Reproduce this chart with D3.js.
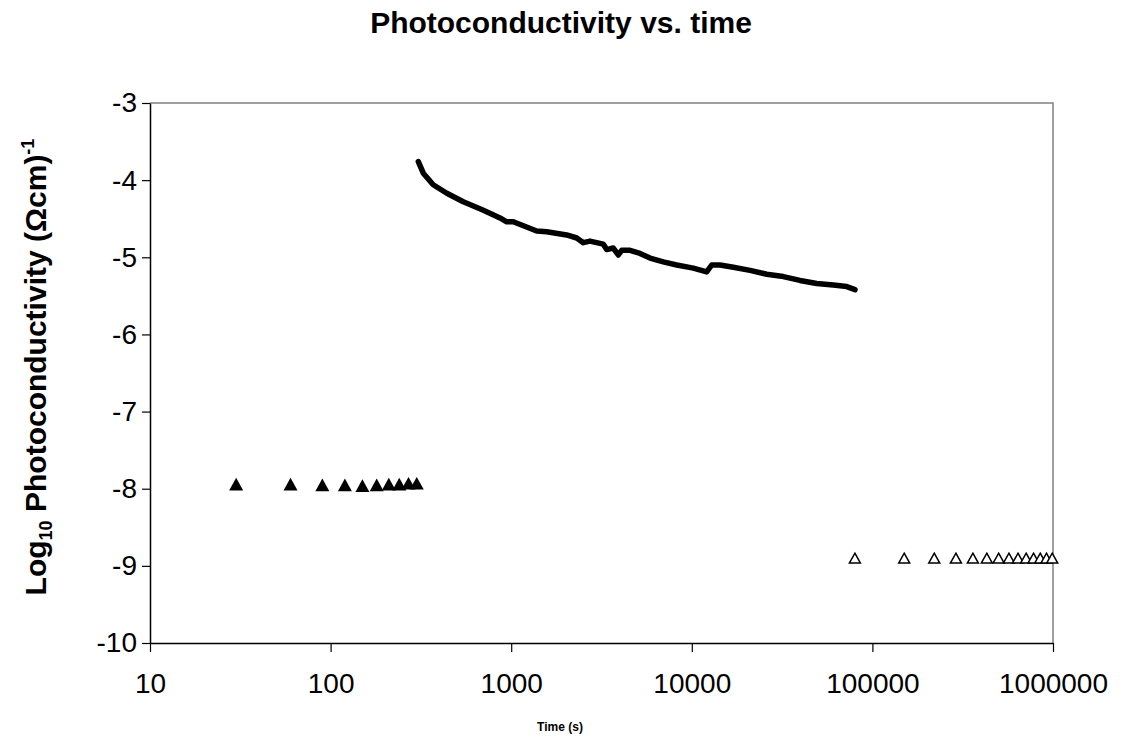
<!DOCTYPE html>
<html>
<head>
<meta charset="utf-8">
<script src="https://cdn.jsdelivr.net/npm/d3@7"></script>
<style>
  body { margin: 0; background: #fff; }
  text { font-family: "Liberation Sans", Arial, sans-serif; fill: #000; }
</style>
</head>
<body>
<div id="chart"></div>
<script>
var width = 1125;
var height = 738;
var margin = {top: 103, right: 72, bottom: 95, left: 150};

// decay curve (time in s, log10 photoconductivity)
var decayTime = [306, 326, 370, 440, 543, 701, 867, 944, 1027, 1384, 1573, 2029, 2306, 2507, 2731,
	3236, 3380, 3676, 3917, 4091, 4548, 5167, 5869, 6954, 8248, 10193, 12090, 12890, 14330,
	16980, 21010, 25980, 32110, 39720, 49150, 60740, 72060, 80100];
var decayValue = [-3.76, -3.91, -4.06, -4.17, -4.28, -4.39, -4.49, -4.54, -4.54, -4.66, -4.67, -4.71, -4.75, -4.81, -4.79,
	-4.83, -4.90, -4.88, -4.97, -4.91, -4.91, -4.95, -5.01, -5.06, -5.10, -5.14, -5.19, -5.10, -5.10,
	-5.13, -5.17, -5.22, -5.25, -5.30, -5.34, -5.36, -5.38, -5.42];

// dark conductivity before illumination (filled triangles)
var darkTime = [30, 60, 90, 120, 150, 180, 210, 240, 270, 300];
var darkValue = [-7.94, -7.94, -7.95, -7.95, -7.96, -7.95, -7.94, -7.94, -7.93, -7.93];

// later dark readings (open triangles)
var lateTime = [80000, 150000, 220000, 290000, 360000, 430000, 500000, 570000, 640000, 710000, 780000, 850000, 920000, 990000];
var lateValue = [-8.90, -8.90, -8.90, -8.90, -8.90, -8.90, -8.90, -8.90, -8.90, -8.90, -8.90, -8.90, -8.90, -8.90];

var xTicks = [10, 100, 1000, 10000, 100000, 1000000];
var yTicks = [-3, -4, -5, -6, -7, -8, -9, -10];

var svg = d3.select("#chart")
	.append("svg")
	.attr("width", width)
	.attr("height", height);

var x = d3.scaleLog()
	.domain([10, 1000000])
	.range([margin.left, width - margin.right]);

var y = d3.scaleLinear()
	.domain([-10, -3])
	.range([height - margin.bottom, margin.top]);

// frame: grey top and right
svg.append("path")
	.attr("d", "M" + x(10) + "," + y(-3) + "H" + x(1000000) + "V" + y(-10))
	.attr("fill", "none")
	.attr("stroke", "#808080")
	.attr("stroke-width", 1.5);

// x axis
var xAxis = svg.append("g")
	.attr("transform", "translate(0," + y(-10) + ")")
	.call(d3.axisBottom(x).tickValues(xTicks).tickFormat(d3.format("d")).tickSizeOuter(0).tickSizeInner(9).tickPadding(16));
xAxis.select(".domain").attr("stroke", "#000").attr("stroke-width", 1.5);
xAxis.selectAll(".tick line").attr("stroke", "#000").attr("stroke-width", 1.2);
xAxis.selectAll(".tick text")
	.attr("font-size", "28px")
	.attr("font-family", "'Liberation Sans', Arial, sans-serif")
	.attr("dy", "0.9em");

// y axis
var yAxis = svg.append("g")
	.attr("transform", "translate(" + x(10) + ",0)")
	.call(d3.axisLeft(y).tickValues(yTicks).tickFormat(d3.format("d")).tickSizeOuter(0).tickSizeInner(8).tickPadding(5));
yAxis.select(".domain").attr("stroke", "#000").attr("stroke-width", 1.5);
yAxis.selectAll(".tick line").attr("stroke", "#000").attr("stroke-width", 1.2);
yAxis.selectAll(".tick text")
	.attr("font-size", "28px")
	.attr("font-family", "'Liberation Sans', Arial, sans-serif")
	.text(function(d) { return d === 0 ? "0" : "-" + Math.abs(d); });

// decay line
var decay = decayTime.map(function(t, i) { return [t, decayValue[i]]; });
var line = d3.line()
	.x(function(d) { return x(d[0]); })
	.y(function(d) { return y(d[1]); });

svg.append("path")
	.datum(decay)
	.attr("d", line)
	.attr("fill", "none")
	.attr("stroke", "#000")
	.attr("stroke-width", 5.5)
	.attr("stroke-linejoin", "round")
	.attr("stroke-linecap", "round");

// triangle markers
function tri(cx, cy, s) {
	var h = s * 0.9;
	return "M" + cx + "," + (cy - h / 2) + "L" + (cx + s / 2) + "," + (cy + h / 2) + "L" + (cx - s / 2) + "," + (cy + h / 2) + "Z";
}

svg.append("g").selectAll("path")
	.data(darkTime)
	.enter().append("path")
	.attr("d", function(d, i) { return tri(x(d), y(darkValue[i]), 14); })
	.attr("fill", "#000");

svg.append("g").selectAll("path")
	.data(lateTime)
	.enter().append("path")
	.attr("d", function(d, i) { return tri(x(d), y(lateValue[i]), 11); })
	.attr("fill", "#fff")
	.attr("stroke", "#000")
	.attr("stroke-width", 1.5);

// title
svg.append("text")
	.attr("x", 561)
	.attr("y", 33)
	.attr("text-anchor", "middle")
	.attr("font-size", "30px")
	.attr("font-weight", "bold")
	.text("Photoconductivity vs. time");

// x label
svg.append("text")
	.attr("x", 560)
	.attr("y", 731)
	.attr("text-anchor", "middle")
	.attr("font-size", "12px")
	.attr("font-weight", "bold")
	.text("Time (s)");

// y label with sub/superscript
var yl = svg.append("text")
	.attr("transform", "translate(46," + ((y(-3) + y(-10)) / 2 - 6) + ") rotate(-90)")
	.attr("text-anchor", "middle")
	.attr("font-size", "30px")
	.attr("font-weight", "bold");
yl.append("tspan").text("Log");
yl.append("tspan").attr("font-size", "18px").attr("dy", "6").text("10");
yl.append("tspan").attr("dy", "-6").text(" Photoconductivity (\u03A9cm)");
yl.append("tspan").attr("font-size", "18px").attr("dy", "-12").text("-1");
</script>
</body>
</html>
